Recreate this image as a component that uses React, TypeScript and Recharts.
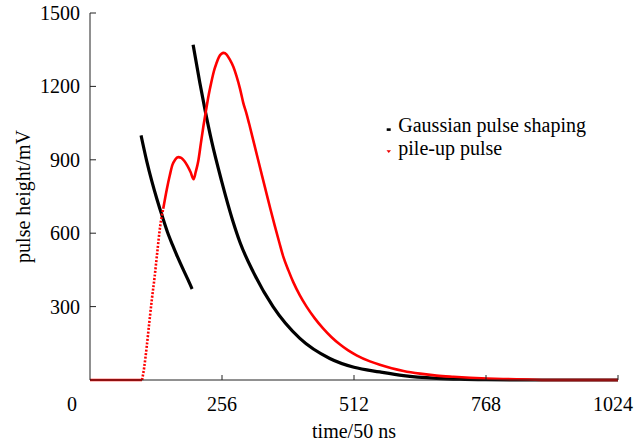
import { LineChart, Line, XAxis, YAxis, Legend } from "recharts";

const FONT = "'Liberation Serif', 'Times New Roman', serif";

const xTicks = [0, 256, 512, 768, 1024];
const yTicks = [300, 600, 900, 1200, 1500];

// Gaussian pulse shaping - first pulse
const gaussTimeA = [99, 110, 120, 130, 140, 150, 160, 170, 180, 190, 198];
const gaussValueA = [1000, 895, 812, 738, 670, 606, 552, 502, 455, 410, 372];

// Gaussian pulse shaping - second pulse
const gaussTimeB = [200, 213, 223, 236, 255, 277, 291, 317, 355, 407, 465, 512, 562, 608, 672, 717, 768, 850, 1024];
const gaussValueB = [1370, 1215, 1105, 975, 815, 650, 562, 440, 300, 170, 88, 52, 33, 18, 7, 3, 1, 0, 0];

// pile-up pulse
const pileTime = [
  0, 50, 101, 105, 110, 115, 120, 125, 130, 136, 142, 149, 155, 160, 165, 171, 177, 183, 189, 195, 201,
  205, 210, 215, 220, 225, 230, 235, 240, 245, 250, 255, 259, 265, 271, 278, 284, 291, 297, 304, 310,
  318, 326, 334, 342, 350, 358, 367, 375, 385, 394, 407, 420, 436, 452, 468, 485, 500, 517, 543, 562,
  585, 608, 640, 672, 705, 737, 770, 801, 850, 886, 950, 1024,
];
const pileValue = [
  0, 0, 0, 50, 136, 235, 330, 415, 513, 627, 700, 780, 839, 880, 900, 911, 908, 895, 875, 850, 821,
  850, 895, 967, 1038, 1102, 1163, 1214, 1260, 1293, 1320, 1333, 1337, 1330, 1310, 1280, 1243, 1190, 1135, 1085, 1036,
  968, 900, 832, 765, 698, 633, 563, 503, 447, 401, 346, 300, 252, 211, 176, 145, 122, 101, 76, 62,
  48, 37, 26, 18, 13, 9, 6, 4, 2, 0, 0, 0,
];

const zip = (t: number[], v: number[]) => t.map((x, i) => ({ t: x, v: v[i] }));

const gaussA = zip(gaussTimeA, gaussValueA);
const gaussB = zip(gaussTimeB, gaussValueB);
const pile = zip(pileTime, pileValue);
const pileBase = pile.filter((p) => p.t <= 101);
const pileRise = pile.filter((p) => p.t >= 101 && p.t <= 142);
const pileMain = pile.filter((p) => p.t >= 142);

const XTick = ({ x, y, payload }: any) => {
  const v = payload.value;
  const dx = v === 0 ? -18 : v === 1024 ? -5 : 0;
  return (
    <g>
      {v !== 0 && <line x1={x} x2={x} y1={y - 17} y2={y - 22} stroke="#222" />}
      <text x={x + dx} y={y} dy={14} textAnchor="middle" fontFamily={FONT} fontSize={20} fill="#000">
        {v}
      </text>
    </g>
  );
};

const YTick = ({ x, y, payload }: any) => (
  <g>
    <line x1={x + 10} x2={x + 16} y1={y} y2={y} stroke="#222" />
    <text x={x} y={y} dy={7} textAnchor="end" fontFamily={FONT} fontSize={20} fill="#000">
      {payload.value}
    </text>
  </g>
);

const LegendBox = () => (
  <svg width={250} height={50} style={{ display: "block" }}>
    <rect x={6.7} y={18.3} width={4} height={2.6} fill="#000" />
    <text x={18.3} y={21.7} fontFamily={FONT} fontSize={20} fill="#000">
      Gaussian pulse shaping
    </text>
    <polygon points="6.5,40.2 11,40.2 8.75,43" fill="#e00" />
    <text x={18.3} y={45} fontFamily={FONT} fontSize={20} fill="#000">
      pile-up pulse
    </text>
  </svg>
);

export default function App() {
  return (
    <div style={{ position: "absolute", left: 0, top: 0, background: "#fff" }}>
      <LineChart width={641} height={444} margin={{ top: 13, right: 23, bottom: 0, left: 20 }}>
        <XAxis
          dataKey="t"
          type="number"
          domain={[0, 1024]}
          ticks={xTicks}
          interval={0}
          height={64}
          tickSize={0}
          tickMargin={17}
          tick={<XTick />}
          axisLine={{ stroke: "#222" }}
          label={{ value: "time/50 ns", position: "insideBottom", offset: 6, fill: "#000", fontSize: 20, fontFamily: FONT }}
        />
        <YAxis
          type="number"
          domain={[0, 1500]}
          ticks={yTicks}
          interval={0}
          width={70}
          tickSize={0}
          tickMargin={10}
          tick={<YTick />}
          axisLine={{ stroke: "#222" }}
          label={{
            content: (props: any) => {
              const vb = props.viewBox;
              const cx = vb.x + 4;
              const cy = vb.y + vb.height / 2;
              return (
                <text
                  x={cx}
                  y={cy}
                  dy={6}
                  transform={`rotate(-90 ${cx} ${cy})`}
                  textAnchor="middle"
                  fontFamily={FONT}
                  fontSize={20}
                  fill="#000"
                >
                  pulse height/mV
                </text>
              );
            },
          }}
        />
        <Legend
          layout="horizontal"
          verticalAlign="middle"
          align="center"
          wrapperStyle={{ left: 380, top: 110, width: 250, height: 50 }}
          content={() => <LegendBox />}
        />
        <Line data={gaussA} dataKey="v" type="monotone" stroke="#000" strokeWidth={3.2} dot={false} isAnimationActive={false} legendType="none" />
        <Line data={gaussB} dataKey="v" type="monotone" stroke="#000" strokeWidth={3.2} dot={false} isAnimationActive={false} legendType="none" />
        <Line data={pileBase} dataKey="v" type="linear" stroke="#f00" strokeWidth={2.6} dot={false} isAnimationActive={false} legendType="none" />
        <Line data={pileRise} dataKey="v" type="monotone" stroke="#f00" strokeWidth={2.6} strokeDasharray="2 1.6" dot={false} isAnimationActive={false} legendType="none" />
        <Line data={pileMain} dataKey="v" type="monotone" stroke="#f00" strokeWidth={2.6} dot={false} isAnimationActive={false} legendType="none" />
      </LineChart>
    </div>
  );
}
